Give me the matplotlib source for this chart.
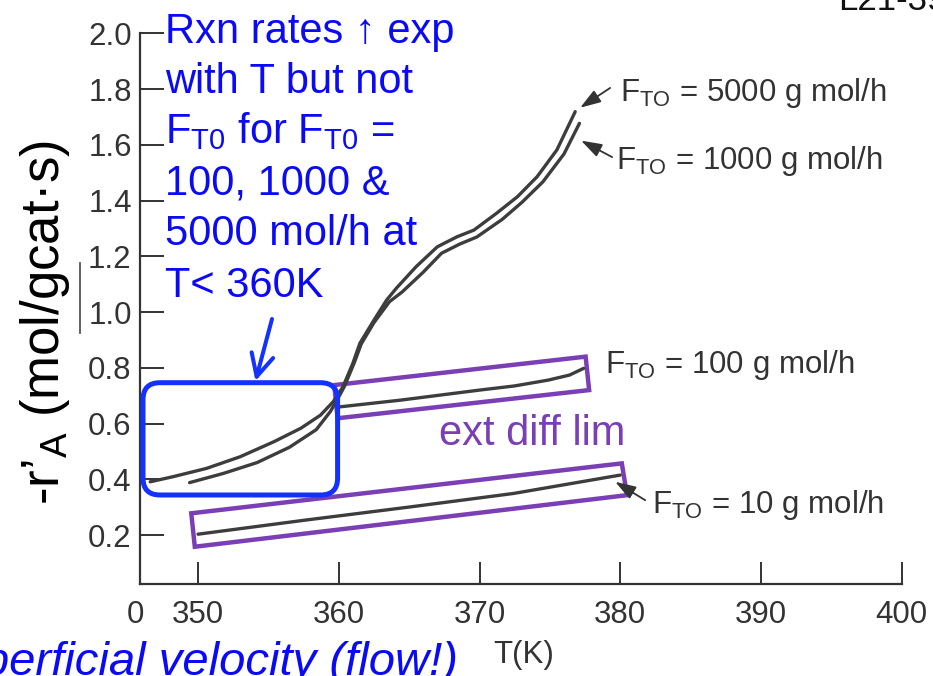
import matplotlib
matplotlib.use('Agg')
import matplotlib.pyplot as plt
from matplotlib.patches import FancyBboxPatch, FancyArrowPatch, Polygon
from matplotlib.lines import Line2D

# rate vs temperature for the four feed rates (T in K, -r'A in mol/gcat.s)
T_5000 = [346.6, 348.2, 350.6, 353.0, 355.4, 357.3, 358.7, 359.6, 360.3, 361.0,
          361.5, 362.5, 363.4, 364.1, 365.5, 367.0, 368.4, 369.6, 371.2, 372.7,
          374.1, 375.5, 376.8]
r_5000 = [0.391, 0.409, 0.439, 0.481, 0.535, 0.583, 0.630, 0.678, 0.732, 0.816,
          0.888, 0.971, 1.043, 1.086, 1.163, 1.234, 1.270, 1.294, 1.354, 1.414,
          1.486, 1.582, 1.719]

T_1000 = [349.4, 351.8, 354.2, 356.5, 358.4, 359.4, 359.9, 360.4, 361.1, 361.6,
          362.5, 363.6, 364.5, 366.0, 367.3, 368.6, 369.8, 371.6, 373.0, 374.5,
          376.0, 377.1]
r_1000 = [0.388, 0.421, 0.460, 0.515, 0.578, 0.643, 0.686, 0.733, 0.818, 0.886,
          0.962, 1.037, 1.072, 1.143, 1.211, 1.244, 1.269, 1.332, 1.393, 1.467,
          1.567, 1.677]

T_100 = [360.1, 364.4, 367.2, 370.0, 372.5, 374.9, 376.4, 377.4]
r_100 = [0.660, 0.684, 0.702, 0.720, 0.735, 0.756, 0.774, 0.798]

T_10 = [350.0, 357.7, 365.1, 372.4, 379.3, 380.0]
r_10 = [0.203, 0.254, 0.301, 0.349, 0.409, 0.415]

flow_labels = ['5000', '1000', '100', '10']

t_ticks = [350, 360, 370, 380, 390, 400]
r_ticks = [0.2, 0.4, 0.6, 0.8, 1.0, 1.2, 1.4, 1.6, 1.8, 2.0]

note_lines = [r'Rxn rates ↑ exp',
              r'with T but not',
              r'F$_{\mathregular{T0}}$ for F$_{\mathregular{T0}}$ =',
              r'100, 1000 &',
              r'5000 mol/h at',
              r'T< 360K']

plt.rcParams['font.family'] = ['Liberation Sans', 'DejaVu Sans']
plt.rcParams['mathtext.fontset'] = 'custom'
plt.rcParams['mathtext.rm'] = 'Liberation Sans'
plt.rcParams['mathtext.it'] = 'Liberation Sans:italic'

INK = '#333333'
BLUE = '#0a0af5'
BOX_BLUE = '#1432ff'
PURPLE = '#7b3fb5'
TICK_FS = 22.5

fig = plt.figure(figsize=(9.33, 6.76), dpi=100)
inch = fig.dpi_scale_trans


def px(x, y):
    # pixel position (from top-left) -> inches from bottom-left
    return x / 100.0, (676 - y) / 100.0


ax = fig.add_axes([0.1501, 0.1368, 0.8164, 0.8139])
ax.set_xlim(345.88, 400)
ax.set_ylim(0.026, 2.0)

line_kw = dict(color='#3d3d3d', lw=2.4, solid_capstyle='round',
               solid_joinstyle='round')
ax.plot(T_5000, r_5000, **line_kw)
ax.plot(T_1000, r_1000, **line_kw)
ax.plot(T_100, r_100, **line_kw)
ax.plot(T_10, r_10, **line_kw)

ax.set_xticks(t_ticks)
ax.set_xticklabels([str(t) for t in t_ticks])
ax.set_yticks(r_ticks)
ax.set_yticklabels(['%.1f' % r for r in r_ticks])
ax.tick_params(direction='in', width=1.4, colors=INK, labelsize=TICK_FS)
ax.tick_params(axis='x', length=16, pad=12)
ax.tick_params(axis='y', length=17, pad=6)
for side in ['top', 'right']:
    ax.spines[side].set_visible(False)
for side in ['left', 'bottom']:
    ax.spines[side].set_linewidth(1.6)
    ax.spines[side].set_color(INK)

# broken axis: the origin is marked 0
ax.annotate('0', xy=(345.88, 0), xycoords=('data', 'axes fraction'),
            xytext=(-3, -12), textcoords='offset points',
            ha='center', va='top', fontsize=TICK_FS, color=INK)

# curve labels
label_pos = [(379.99, 1.758), (379.71, 1.512), (378.93, 0.782), (382.25, 0.280)]
for lab, (tx, ty) in zip(flow_labels, label_pos):
    ax.text(tx, ty, r'F$_{\mathregular{TO}}$ = ' + lab + ' g mol/h',
            fontsize=22.5, color=INK, va='baseline')

arrow_kw = dict(arrowstyle='-|>,head_length=0.9,head_width=0.3', color=INK,
                lw=1.3, mutation_scale=14, shrinkA=0, shrinkB=0)
ax.annotate('', xy=(377.15, 1.733), xytext=(379.28, 1.804), arrowprops=arrow_kw)
ax.annotate('', xy=(377.22, 1.615), xytext=(379.42, 1.556), arrowprops=arrow_kw)
ax.annotate('', xy=(379.64, 0.391), xytext=(381.77, 0.325), arrowprops=arrow_kw)

# external diffusion limited regions
box_100 = [(359.68, 0.738), (377.54, 0.840), (377.79, 0.720), (359.92, 0.619)]
box_10 = [(349.52, 0.278), (380.11, 0.457), (380.48, 0.343), (349.77, 0.158)]
for corners in [box_100, box_10]:
    ax.add_patch(Polygon(corners, closed=True, fill=False, ec=PURPLE, lw=3.2,
                         joinstyle='miter', clip_on=False))
fig.text(*px(439, 445), 'ext diff lim', transform=inch, color=PURPLE,
         fontsize=30, va='baseline')

# kinetic region note
baselines = [43, 93, 143, 194, 245, 297]
for txt, yb in zip(note_lines, baselines):
    fig.text(*px(165, yb), txt, transform=inch, color=BLUE, fontsize=30,
             va='baseline')

x0, y0 = px(143, 495)
fig.add_artist(FancyBboxPatch((x0, y0), 1.946, 1.123,
                              boxstyle='round,pad=0,rounding_size=0.17',
                              transform=inch, fill=False, ec=BOX_BLUE, lw=3.6))
fig.add_artist(FancyArrowPatch(px(272, 319), px(255.5, 381),
                               arrowstyle='->,head_length=1.6,head_width=0.8',
                               mutation_scale=10, lw=2.9, color=BOX_BLUE,
                               shrinkA=0, shrinkB=0, transform=inch,
                               capstyle='round', joinstyle='round'))

# axis titles and page text
fig.text(*px(45, 322), r'-r’$_{\mathregular{A}}$ (mol/gcat·s)', transform=inch,
         rotation=90, ha='center', va='center', fontsize=38, color='black')
fig.add_artist(Line2D([0.80, 0.80], [4.13, 3.43], transform=inch,
                      color='#444444', lw=1.2))
fig.text(*px(493, 655), 'T(K)', transform=inch, va='center', fontsize=TICK_FS,
         color=INK)
fig.text(*px(458, 675), 'superficial velocity (flow!)', transform=inch,
         ha='right', va='baseline', style='italic', color=BLUE, fontsize=34)
fig.text(*px(838, 10), 'L21-39', transform=inch, va='baseline', fontsize=25,
         color='#111111')

fig.savefig('out.png', dpi=100)
